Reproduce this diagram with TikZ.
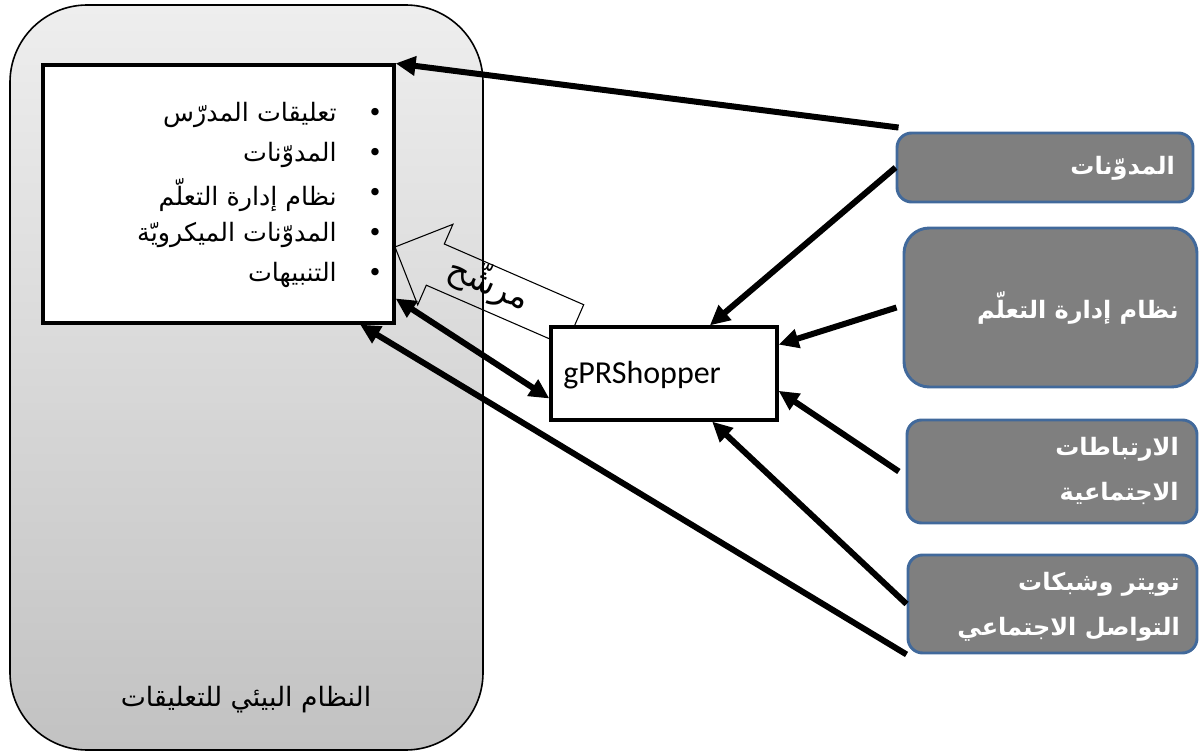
\documentclass[tikz,border=0pt]{standalone}
\usepackage{fontspec}
\usetikzlibrary{arrows.meta,calc,fit}
\newfontfamily\arabicfont[Script=Arabic]{DejaVu Sans}
\newfontfamily\latinfont{Carlito}
\TeXXeTstate=1
\definecolor{boxgray}{RGB}{127,127,127}
\definecolor{boxedge}{RGB}{65,105,155}
\definecolor{panetop}{RGB}{238,238,238}
\definecolor{panebot}{RGB}{194,194,194}

\begin{document}
\begin{tikzpicture}[x=0.75pt,y=-0.75pt,
  pane/.style={draw=black,line width=1.2pt,rounded corners=58pt,
    top color=panetop,bottom color=panebot,inner sep=0pt},
  listbox/.style={draw=black,line width=2.4pt,fill=white,inner sep=0pt},
  toolbox/.style={draw=black,line width=2.4pt,fill=white,inner sep=0pt},
  srcbox/.style={draw=boxedge,line width=2.2pt,fill=boxgray,
    rounded corners=11pt,inner sep=0pt},
  listitem/.style={anchor=east,inner sep=0pt,font=\arabicfont\fontsize{19}{22}\selectfont},
  bulletmark/.style={inner sep=0pt,font=\arabicfont\fontsize{19}{22}\selectfont},
  srclabel/.style={anchor=east,inner sep=0pt,text=white,align=right,
    font=\arabicfont\bfseries\fontsize{18}{34}\selectfont},
  conn/.style={line width=4.5pt,-{Triangle[length=15pt,width=14pt]}},
  bothconn/.style={line width=4.5pt,{Triangle[length=15pt,width=14pt]}-{Triangle[length=15pt,width=14pt]}},
]
\useasboundingbox (0,0) rectangle (1203,755);

% feedback ecosystem panel
\node[pane,fit={(10,5) (483,750)}] (pane) {};
\node[inner sep=0pt,font=\arabicfont\fontsize{20}{24}\selectfont] (panetitle) at (246,700)
  {\beginR النظام البيئي للتعليقات\endR};

% list of feedback sources
\node[listbox,fit={(43,65) (394,323)}] (inner) {};
\node[listitem] (i1) at (337,115) {\beginR تعليقات المدرّس\endR};
\node[listitem] (i2) at (337,155) {\beginR المدوّنات\endR};
\node[listitem] (i3) at (337,195) {\beginR نظام إدارة التعلّم\endR};
\node[listitem] (i4) at (337,235) {\beginR المدوّنات الميكرويّة\endR};
\node[listitem] (i5) at (337,275) {\beginR التنبيهات\endR};
\foreach \yy/\nm in {115/b1,155/b2,195/b3,235/b4,275/b5}
  \node[bulletmark] (\nm) at (375,\yy) {•};

% hollow filter arrow
\draw[line width=0.8pt] (395,247) -- (452.9,224.3) -- (444.3,244.0) -- (583.7,304.7)
  -- (565.7,345.9) -- (426.3,285.2) -- (417.7,304.9) -- cycle;
\node[rotate=-23.5,inner sep=0pt,font=\arabicfont\fontsize{25}{30}\selectfont] (filter)
  at (489,284) {\beginR مرشّح\endR};

% aggregator
\node[toolbox,fit={(551,327) (777,420)}] (gpr) {};
\node[anchor=west,inner sep=0pt,font=\latinfont\fontsize{24}{28}\selectfont] (gprtext)
  at (563,375) {gPRShopper};

% external sources
\node[srcbox,fit={(897,133) (1193,202)}] (s1) {};
\node[srcbox,rounded corners=19pt,fit={(904,228) (1197,387)}] (s2) {};
\node[srcbox,fit={(907,420) (1197,523)}] (s3) {};
\node[srcbox,fit={(908,555) (1197,653)}] (s4) {};
\node[srclabel] (t1) at (1175,168) {\beginR المدوّنات\endR};
\node[srclabel] (t2) at (1179,308) {\beginR نظام إدارة التعلّم\endR};
\node[srclabel] (t3) at (1179,471) {\beginR الارتباطات\endR\\\beginR الاجتماعية\endR};
\node[srclabel] (t4) at (1180,607) {\beginR تويتر وشبكات\endR\\\beginR التواصل الاجتماعي\endR};

% connectors
\draw[conn] ([shift={(3,-4)}]s1.north west) -- (inner.north east);
\draw[conn] (s1.west) -- ($(gpr.north west)!0.7!(gpr.north east)$);
\draw[conn] ([xshift=-4.5pt]s2.west) -- ($(gpr.north east)!0.2!(gpr.south east)$);
\draw[conn] ([xshift=-5pt]s3.west) -- ($(gpr.north east)!0.68!(gpr.south east)$);
\draw[conn] (s4.west) -- ($(gpr.south west)!0.71!(gpr.south east)$);
\draw[conn] (s4.south west) -- ($(inner.south west)!0.9!(inner.south east)$);
\draw[bothconn] ($(inner.north east)!0.9!(inner.south east)$) -- ($(gpr.north west)!0.76!(gpr.south west)$);
\end{tikzpicture}
\end{document}
